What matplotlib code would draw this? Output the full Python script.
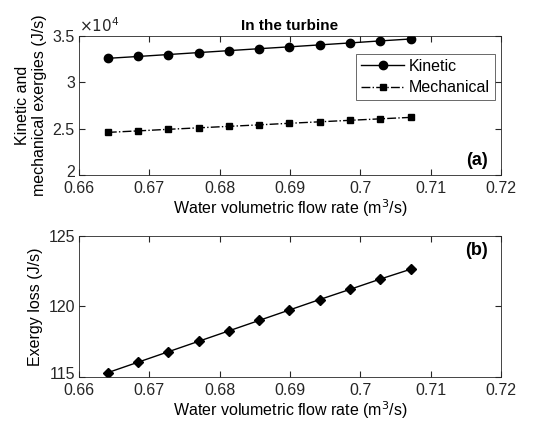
import matplotlib
matplotlib.use("Agg")
import matplotlib.pyplot as plt
from matplotlib.transforms import ScaledTranslation

plt.rcParams['font.family'] = ['Liberation Sans', 'DejaVu Sans']

flow = [0.6641, 0.6684, 0.6727, 0.6770, 0.6813, 0.6856, 0.6899, 0.6942, 0.6985, 0.7028, 0.7072]
kinetic = [3.259, 3.279, 3.300, 3.321, 3.342, 3.363, 3.383, 3.404, 3.425, 3.447, 3.468]
mechanical = [2.460, 2.476, 2.493, 2.509, 2.525, 2.541, 2.558, 2.574, 2.590, 2.606, 2.622]
exergy_loss = [115.31, 116.05, 116.79, 117.53, 118.27, 119.01, 119.75, 120.49, 121.21, 121.94, 122.65]

xticks = [0.66, 0.67, 0.68, 0.69, 0.70, 0.71, 0.72]
xticklabels = ['0.66', '0.67', '0.68', '0.69', '0.7', '0.71', '0.72']

fig = plt.figure(figsize=(5.46, 4.23), dpi=100)
ax1 = fig.add_axes([79 / 546, 1 - 175 / 423, 422 / 546, 139 / 423])
ax2 = fig.add_axes([79 / 546, 1 - 377 / 423, 422 / 546, 141 / 423])


def style(ax):
    ax.set_xlim(0.66, 0.72)
    ax.set_xticks(xticks)
    ax.set_xticklabels(xticklabels)
    ax.tick_params(direction='in', top=True, right=True, labelsize=11.5, length=4,
                   colors='#262626')
    ax.tick_params(axis='x', pad=4)
    ax.tick_params(axis='y', pad=3)
    for s in ax.spines.values():
        s.set_color('#262626')
        s.set_linewidth(0.6)
    ax.set_xlabel('Water volumetric flow rate (m$^3$/s)', fontsize=11.5, labelpad=1)


def lift_bottom_label(ax):
    # nudge the lowest y tick label up a little so it clears the x tick labels
    lab = ax.get_yticklabels()[0]
    lab.set_transform(lab.get_transform() + ScaledTranslation(0, 3 / 72, fig.dpi_scale_trans))


# --- (a) kinetic and mechanical ---
ax1.plot(flow, kinetic, '-o', color='black', ms=6, lw=1, label='Kinetic')
ax1.plot(flow, mechanical, '-.s', color='black', ms=5, lw=1, label='Mechanical')
style(ax1)
ax1.set_ylim(2, 3.5)
ax1.set_yticks([2, 2.5, 3, 3.5])
ax1.set_yticklabels(['2', '2.5', '3', '3.5'])
lift_bottom_label(ax1)
ax1.set_ylabel('Kinetic and\nmechanical exergies (J/s)', fontsize=11.5, labelpad=4)
ax1.text(0.0, 1.005, r'$\times10^4$', transform=ax1.transAxes, fontsize=11,
         color='#262626', ha='left', va='bottom')
ax1.set_title('In the turbine', fontsize=11, fontweight='bold', pad=4)
leg = ax1.legend(loc='upper right', bbox_to_anchor=(0.985, 0.87), fontsize=11.5,
                 frameon=True, fancybox=False, handlelength=2.7, borderpad=0.3,
                 labelspacing=0.4, handletextpad=0.3, borderaxespad=0)
leg.get_frame().set_edgecolor('#262626')
leg.get_frame().set_linewidth(0.6)
ax1.text(0.969, 0.04, '(a)', transform=ax1.transAxes, fontsize=13,
         fontweight='bold', ha='right', va='bottom')

# --- (b) exergy loss ---
ax2.plot(flow, exergy_loss, '-D', color='black', ms=5, lw=1)
style(ax2)
ax2.set_ylim(115, 125)
ax2.set_yticks([115, 120, 125])
lift_bottom_label(ax2)
ax2.set_ylabel('Exergy loss (J/s)', fontsize=11.5, labelpad=4)
ax2.text(0.969, 0.955, '(b)', transform=ax2.transAxes, fontsize=13,
         fontweight='bold', ha='right', va='top')

fig.savefig('out.png', dpi=100)
